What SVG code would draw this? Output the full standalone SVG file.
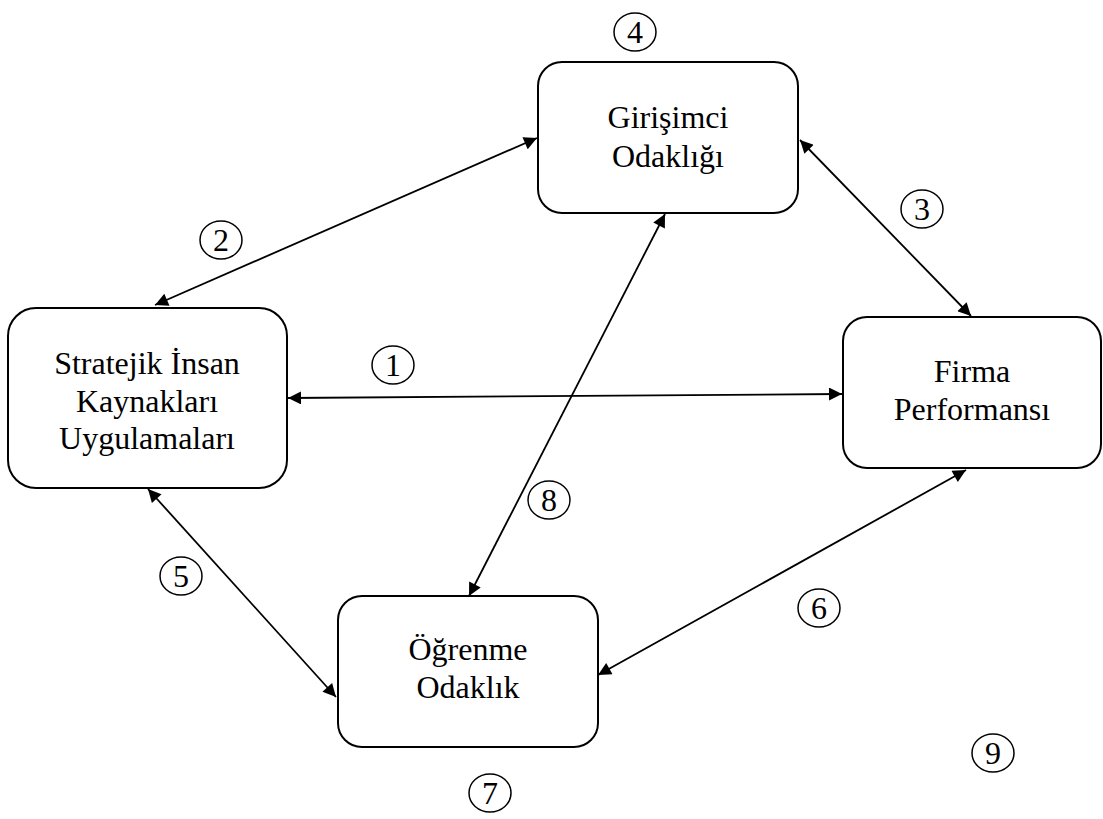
<svg xmlns="http://www.w3.org/2000/svg" width="1103" height="819" viewBox="0 0 1103 819">
  <style>
    .box { fill: #fff; stroke: #000; stroke-width: 2; }
    text { font-family: "Liberation Serif", "DejaVu Serif", serif; fill: #000; text-anchor: middle; }
    .lbl { font-size: 32px; }
    .num { font-size: 32px; }
    .ring { fill: none; stroke: #000; stroke-width: 1.5; }
    .link { stroke: #000; stroke-width: 1.8; fill: none; marker-start: url(#head); marker-end: url(#head); }
  </style>
  <defs>
    <marker id="head" viewBox="0 0 10 10" refX="10" refY="5" markerWidth="17" markerHeight="13" markerUnits="userSpaceOnUse" orient="auto-start-reverse">
      <path d="M0,0 L10,5 L0,10 Z" fill="#000"/>
    </marker>
  </defs>

  <!-- connectors -->
  <g id="connectors">
    <line class="link" x1="288" y1="398" x2="842" y2="394"/>
    <line class="link" x1="155" y1="305" x2="537" y2="138"/>
    <line class="link" x1="800" y1="140" x2="971" y2="316"/>
    <line class="link" x1="148" y1="489" x2="336" y2="697"/>
    <line class="link" x1="966" y1="470" x2="598" y2="675"/>
    <line class="link" x1="665" y1="214" x2="469" y2="596"/>
  </g>

  <!-- nodes -->
  <g id="girisimci">
    <rect class="box" x="538" y="62" width="260" height="151" rx="24"/>
    <text class="lbl" x="668" y="128">Girişimci</text>
    <text class="lbl" x="668" y="167">Odaklığı</text>
  </g>
  <g id="stratejik">
    <rect class="box" x="8" y="308" width="279" height="180" rx="28"/>
    <text class="lbl" x="147" y="374">Stratejik İnsan</text>
    <text class="lbl" x="147" y="412">Kaynakları</text>
    <text class="lbl" x="147" y="449">Uygulamaları</text>
  </g>
  <g id="firma">
    <rect class="box" x="843" y="317" width="258" height="151" rx="24"/>
    <text class="lbl" x="972" y="382">Firma</text>
    <text class="lbl" x="972" y="420">Performansı</text>
  </g>
  <g id="ogrenme">
    <rect class="box" x="338" y="596" width="260" height="151" rx="24"/>
    <text class="lbl" x="468" y="660">Öğrenme</text>
    <text class="lbl" x="468" y="698">Odaklık</text>
  </g>

  <!-- numbered markers -->
  <g id="markers">
    <g id="m1"><ellipse class="ring" cx="393" cy="365" rx="21" ry="19"/><text class="num" x="393" y="376">1</text></g>
    <g id="m2"><ellipse class="ring" cx="221" cy="240" rx="21" ry="19"/><text class="num" x="221" y="251">2</text></g>
    <g id="m3"><ellipse class="ring" cx="922" cy="209" rx="21" ry="19"/><text class="num" x="922" y="220">3</text></g>
    <g id="m4"><ellipse class="ring" cx="635" cy="32" rx="21" ry="19"/><text class="num" x="635" y="43">4</text></g>
    <g id="m5"><ellipse class="ring" cx="181" cy="576" rx="21" ry="19"/><text class="num" x="181" y="587">5</text></g>
    <g id="m6"><ellipse class="ring" cx="819" cy="608" rx="21" ry="19"/><text class="num" x="819" y="619">6</text></g>
    <g id="m7"><ellipse class="ring" cx="490" cy="793" rx="21" ry="19"/><text class="num" x="490" y="804">7</text></g>
    <g id="m8"><ellipse class="ring" cx="549" cy="500" rx="21" ry="19"/><text class="num" x="549" y="511">8</text></g>
    <g id="m9"><ellipse class="ring" cx="993" cy="753" rx="21" ry="19"/><text class="num" x="993" y="764">9</text></g>
  </g>
</svg>
